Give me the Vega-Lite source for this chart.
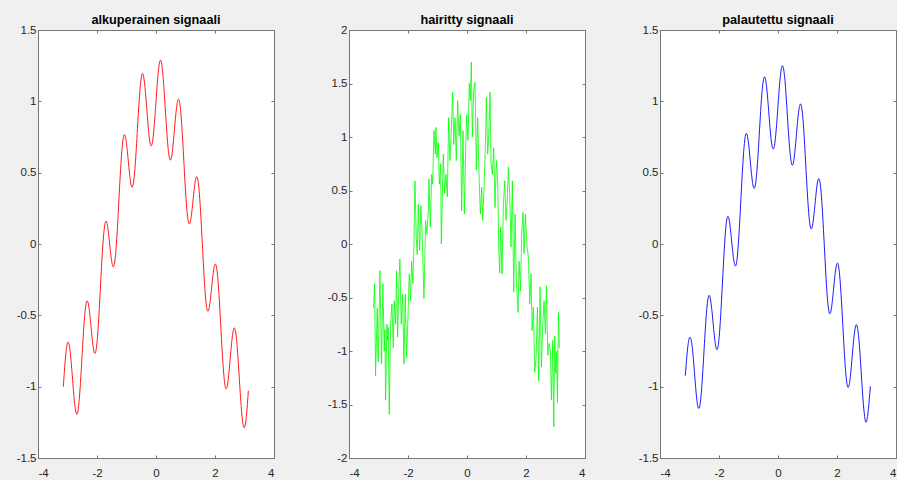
{
  "$schema": "https://vega.github.io/schema/vega-lite/v6.json",
  "background": "#f0f0f0",
  "padding": {"left": 15, "top": 13, "right": 0, "bottom": 0},
  "config": {
    "view": {"fill": "white", "stroke": "#767676", "strokeWidth": 1},
    "axis": {
      "grid": false,
      "domainColor": "#767676",
      "domainWidth": 1,
      "tickColor": "#767676",
      "tickWidth": 1,
      "tickSize": -3,
      "labelFont": "Liberation Sans",
      "labelFontSize": 11.5,
      "labelColor": "#262626",
      "labelExpr": "'' + datum.value",
      "minExtent": 0,
      "title": null
    },
    "axisBottom": {"labelPadding": 12.5},
    "axisLeft": {"labelPadding": 5},
    "axisTop": {"maxExtent": 0, "labels": false},
    "axisRight": {"maxExtent": 0, "labels": false},
    "title": {
      "font": "Liberation Sans",
      "fontSize": 12.7,
      "fontWeight": "bold",
      "color": "#000000",
      "baseline": "alphabetic",
      "frame": "group",
      "offset": -3,
      "anchor": "middle"
    }
  },
  "datasets": {
    "orig": [
      {"x": -3.142, "y": -1.0}, {"x": -3.063, "y": -0.785}, {"x": -2.985, "y": -0.688}, {"x": -2.906, "y": -0.76}, {"x": -2.827, "y": -0.951}, {"x": -2.749, "y": -1.136}, {"x": -2.67, "y": -1.191}, {"x": -2.592, "y": -1.065}, {"x": -2.513, "y": -0.809}, {"x": -2.435, "y": -0.548}, {"x": -2.356, "y": -0.407}, {"x": -2.278, "y": -0.437}, {"x": -2.199, "y": -0.588}, {"x": -2.121, "y": -0.734}, {"x": -2.042, "y": -0.754}, {"x": -1.963, "y": -0.595}, {"x": -1.885, "y": -0.309}, {"x": -1.806, "y": -0.021}, {"x": -1.728, "y": 0.144}, {"x": -1.649, "y": 0.134}, {"x": -1.571, "y": 0.0}, {"x": -1.492, "y": -0.134}, {"x": -1.414, "y": -0.144}, {"x": -1.335, "y": 0.021}, {"x": -1.257, "y": 0.309}, {"x": -1.178, "y": 0.595}, {"x": -1.1, "y": 0.754}, {"x": -1.021, "y": 0.734}, {"x": -0.942, "y": 0.588}, {"x": -0.864, "y": 0.437}, {"x": -0.785, "y": 0.407}, {"x": -0.707, "y": 0.548}, {"x": -0.628, "y": 0.809}, {"x": -0.55, "y": 1.065}, {"x": -0.471, "y": 1.191}, {"x": -0.393, "y": 1.136}, {"x": -0.314, "y": 0.951}, {"x": -0.236, "y": 0.76}, {"x": -0.157, "y": 0.688}, {"x": -0.079, "y": 0.785}, {"x": 0.0, "y": 1.0}, {"x": 0.079, "y": 1.209}, {"x": 0.157, "y": 1.288}, {"x": 0.236, "y": 1.184}, {"x": 0.314, "y": 0.951}, {"x": 0.393, "y": 0.712}, {"x": 0.471, "y": 0.591}, {"x": 0.55, "y": 0.641}, {"x": 0.628, "y": 0.809}, {"x": 0.707, "y": 0.972}, {"x": 0.785, "y": 1.007}, {"x": 0.864, "y": 0.861}, {"x": 0.942, "y": 0.588}, {"x": 1.021, "y": 0.31}, {"x": 1.1, "y": 0.154}, {"x": 1.178, "y": 0.171}, {"x": 1.257, "y": 0.309}, {"x": 1.335, "y": 0.445}, {"x": 1.414, "y": 0.456}, {"x": 1.492, "y": 0.29}, {"x": 1.571, "y": 0.0}, {"x": 1.649, "y": -0.29}, {"x": 1.728, "y": -0.456}, {"x": 1.806, "y": -0.445}, {"x": 1.885, "y": -0.309}, {"x": 1.963, "y": -0.171}, {"x": 2.042, "y": -0.154}, {"x": 2.121, "y": -0.31}, {"x": 2.199, "y": -0.588}, {"x": 2.278, "y": -0.861}, {"x": 2.356, "y": -1.007}, {"x": 2.435, "y": -0.972}, {"x": 2.513, "y": -0.809}, {"x": 2.592, "y": -0.641}, {"x": 2.67, "y": -0.591}, {"x": 2.749, "y": -0.712}, {"x": 2.827, "y": -0.951}, {"x": 2.906, "y": -1.184}, {"x": 2.985, "y": -1.288}, {"x": 3.063, "y": -1.209}, {"x": 3.13, "y": -1.028}
    ],
    "noisy": [
      {"x": -3.167, "y": -0.6}, {"x": -3.133, "y": -0.37}, {"x": -3.1, "y": -1.23}, {"x": -3.043, "y": -0.6}, {"x": -3.009, "y": -1.1}, {"x": -2.952, "y": -0.25}, {"x": -2.896, "y": -1.12}, {"x": -2.851, "y": -0.37}, {"x": -2.805, "y": -1.0}, {"x": -2.783, "y": -0.8}, {"x": -2.76, "y": -1.46}, {"x": -2.715, "y": -0.75}, {"x": -2.692, "y": -0.9}, {"x": -2.67, "y": -0.78}, {"x": -2.636, "y": -1.59}, {"x": -2.59, "y": -0.75}, {"x": -2.545, "y": -0.56}, {"x": -2.5, "y": -0.97}, {"x": -2.466, "y": -0.53}, {"x": -2.421, "y": -0.75}, {"x": -2.387, "y": -0.25}, {"x": -2.353, "y": -0.87}, {"x": -2.308, "y": -0.37}, {"x": -2.274, "y": -0.14}, {"x": -2.229, "y": -0.75}, {"x": -2.183, "y": -0.47}, {"x": -2.138, "y": -1.12}, {"x": -2.093, "y": -0.47}, {"x": -2.048, "y": -1.06}, {"x": -2.002, "y": -0.69}, {"x": -1.957, "y": -0.28}, {"x": -1.912, "y": -0.53}, {"x": -1.878, "y": -0.16}, {"x": -1.833, "y": -0.37}, {"x": -1.799, "y": 0.0}, {"x": -1.765, "y": 0.59}, {"x": -1.719, "y": 0.05}, {"x": -1.686, "y": -0.1}, {"x": -1.652, "y": 0.37}, {"x": -1.606, "y": -0.06}, {"x": -1.561, "y": 0.36}, {"x": -1.527, "y": 0.15}, {"x": -1.459, "y": -0.51}, {"x": -1.403, "y": 0.22}, {"x": -1.357, "y": 0.09}, {"x": -1.312, "y": 0.31}, {"x": -1.29, "y": 0.61}, {"x": -1.244, "y": 0.16}, {"x": -1.199, "y": 0.65}, {"x": -1.165, "y": 0.56}, {"x": -1.12, "y": 1.06}, {"x": -1.075, "y": 0.84}, {"x": -1.052, "y": 1.09}, {"x": -1.018, "y": 0.81}, {"x": -0.973, "y": 0.95}, {"x": -0.939, "y": 0.56}, {"x": -0.894, "y": 0.75}, {"x": -0.871, "y": 0.0}, {"x": -0.803, "y": 0.84}, {"x": -0.758, "y": 0.47}, {"x": -0.713, "y": 0.65}, {"x": -0.667, "y": 0.44}, {"x": -0.622, "y": 1.18}, {"x": -0.577, "y": 0.78}, {"x": -0.532, "y": 1.06}, {"x": -0.486, "y": 1.42}, {"x": -0.452, "y": 0.93}, {"x": -0.407, "y": 1.18}, {"x": -0.362, "y": 0.78}, {"x": -0.317, "y": 1.34}, {"x": -0.271, "y": 1.01}, {"x": -0.226, "y": 1.21}, {"x": -0.181, "y": 0.31}, {"x": -0.136, "y": 1.06}, {"x": -0.09, "y": 0.28}, {"x": -0.045, "y": 0.9}, {"x": -0.011, "y": 1.21}, {"x": 0.034, "y": 0.97}, {"x": 0.079, "y": 1.5}, {"x": 0.113, "y": 1.34}, {"x": 0.147, "y": 1.7}, {"x": 0.181, "y": 1.0}, {"x": 0.226, "y": 1.43}, {"x": 0.271, "y": 1.51}, {"x": 0.317, "y": 0.69}, {"x": 0.362, "y": 1.18}, {"x": 0.407, "y": 0.65}, {"x": 0.452, "y": 0.28}, {"x": 0.498, "y": 0.53}, {"x": 0.532, "y": 0.22}, {"x": 0.577, "y": 0.53}, {"x": 0.622, "y": 0.9}, {"x": 0.656, "y": 1.37}, {"x": 0.701, "y": 0.84}, {"x": 0.735, "y": 1.0}, {"x": 0.781, "y": 1.42}, {"x": 0.814, "y": 0.75}, {"x": 0.86, "y": 0.65}, {"x": 0.905, "y": 0.9}, {"x": 0.95, "y": 0.34}, {"x": 0.995, "y": 0.78}, {"x": 1.041, "y": 0.59}, {"x": 1.075, "y": -0.03}, {"x": 1.109, "y": -0.27}, {"x": 1.143, "y": 0.16}, {"x": 1.188, "y": -0.28}, {"x": 1.233, "y": 0.37}, {"x": 1.278, "y": 0.59}, {"x": 1.324, "y": 0.22}, {"x": 1.369, "y": 0.44}, {"x": 1.403, "y": 0.72}, {"x": 1.448, "y": 0.47}, {"x": 1.493, "y": -0.03}, {"x": 1.538, "y": 0.59}, {"x": 1.584, "y": -0.45}, {"x": 1.629, "y": 0.28}, {"x": 1.674, "y": -0.34}, {"x": 1.731, "y": -0.64}, {"x": 1.765, "y": -0.16}, {"x": 1.81, "y": -0.44}, {"x": 1.855, "y": 0.09}, {"x": 1.9, "y": 0.3}, {"x": 1.934, "y": -0.09}, {"x": 1.98, "y": 0.28}, {"x": 2.036, "y": -0.03}, {"x": 2.081, "y": -0.12}, {"x": 2.127, "y": -0.56}, {"x": 2.172, "y": -0.28}, {"x": 2.206, "y": -0.81}, {"x": 2.251, "y": -0.59}, {"x": 2.296, "y": -1.2}, {"x": 2.342, "y": -1.06}, {"x": 2.387, "y": -0.59}, {"x": 2.432, "y": -1.28}, {"x": 2.477, "y": -0.4}, {"x": 2.523, "y": -1.15}, {"x": 2.568, "y": -0.75}, {"x": 2.613, "y": -0.53}, {"x": 2.658, "y": -0.84}, {"x": 2.692, "y": -0.39}, {"x": 2.738, "y": -1.04}, {"x": 2.783, "y": -0.93}, {"x": 2.828, "y": -1.0}, {"x": 2.862, "y": -1.46}, {"x": 2.907, "y": -0.9}, {"x": 2.941, "y": -1.71}, {"x": 2.975, "y": -0.86}, {"x": 3.009, "y": -1.21}, {"x": 3.043, "y": -1.0}, {"x": 3.066, "y": -1.48}, {"x": 3.1, "y": -0.64}, {"x": 3.133, "y": -0.97}
    ],
    "restored": [
      {"x": -3.142, "y": -0.923}, {"x": -3.063, "y": -0.73}, {"x": -2.985, "y": -0.654}, {"x": -2.906, "y": -0.724}, {"x": -2.827, "y": -0.913}, {"x": -2.749, "y": -1.096}, {"x": -2.67, "y": -1.149}, {"x": -2.592, "y": -1.024}, {"x": -2.513, "y": -0.768}, {"x": -2.435, "y": -0.508}, {"x": -2.356, "y": -0.367}, {"x": -2.278, "y": -0.401}, {"x": -2.199, "y": -0.556}, {"x": -2.121, "y": -0.705}, {"x": -2.042, "y": -0.729}, {"x": -1.963, "y": -0.567}, {"x": -1.885, "y": -0.279}, {"x": -1.806, "y": 0.012}, {"x": -1.728, "y": 0.18}, {"x": -1.649, "y": 0.162}, {"x": -1.571, "y": 0.02}, {"x": -1.492, "y": -0.122}, {"x": -1.414, "y": -0.14}, {"x": -1.335, "y": 0.027}, {"x": -1.257, "y": 0.316}, {"x": -1.178, "y": 0.604}, {"x": -1.1, "y": 0.764}, {"x": -1.021, "y": 0.739}, {"x": -0.942, "y": 0.588}, {"x": -0.864, "y": 0.432}, {"x": -0.785, "y": 0.397}, {"x": -0.707, "y": 0.535}, {"x": -0.628, "y": 0.793}, {"x": -0.55, "y": 1.045}, {"x": -0.471, "y": 1.168}, {"x": -0.393, "y": 1.113}, {"x": -0.314, "y": 0.928}, {"x": -0.236, "y": 0.738}, {"x": -0.157, "y": 0.666}, {"x": -0.079, "y": 0.759}, {"x": 0.0, "y": 0.97}, {"x": 0.079, "y": 1.174}, {"x": 0.157, "y": 1.249}, {"x": 0.236, "y": 1.146}, {"x": 0.314, "y": 0.914}, {"x": 0.393, "y": 0.676}, {"x": 0.471, "y": 0.556}, {"x": 0.55, "y": 0.606}, {"x": 0.628, "y": 0.775}, {"x": 0.707, "y": 0.938}, {"x": 0.785, "y": 0.974}, {"x": 0.864, "y": 0.827}, {"x": 0.942, "y": 0.553}, {"x": 1.021, "y": 0.274}, {"x": 1.1, "y": 0.117}, {"x": 1.178, "y": 0.14}, {"x": 1.257, "y": 0.284}, {"x": 1.335, "y": 0.427}, {"x": 1.414, "y": 0.444}, {"x": 1.492, "y": 0.276}, {"x": 1.571, "y": -0.016}, {"x": 1.649, "y": -0.307}, {"x": 1.728, "y": -0.475}, {"x": 1.806, "y": -0.457}, {"x": 1.885, "y": -0.314}, {"x": 1.963, "y": -0.169}, {"x": 2.042, "y": -0.145}, {"x": 2.121, "y": -0.301}, {"x": 2.199, "y": -0.579}, {"x": 2.278, "y": -0.852}, {"x": 2.356, "y": -0.998}, {"x": 2.435, "y": -0.96}, {"x": 2.513, "y": -0.793}, {"x": 2.592, "y": -0.622}, {"x": 2.67, "y": -0.568}, {"x": 2.749, "y": -0.685}, {"x": 2.827, "y": -0.92}, {"x": 2.906, "y": -1.15}, {"x": 2.985, "y": -1.25}, {"x": 3.063, "y": -1.16}, {"x": 3.13, "y": -0.998}
    ]
  },
  "spacing": 75,
  "bounds": "flush",
  "hconcat": [
    {
      "width": 236,
      "height": 428,
      "title": {"text": "alkuperainen signaali"},
      "data": {"name": "orig"},
      "layer": [
        {
          "mark": {"type": "line", "color": "#ff0000", "strokeWidth": 0.9, "interpolate": "natural"},
          "encoding": {
            "x": {"field": "x", "type": "quantitative", "scale": {"domain": [-4, 4], "nice": false, "zero": false}, "axis": {"orient": "bottom", "values": [-4, -2, 0, 2, 4]}},
            "y": {"field": "y", "type": "quantitative", "scale": {"domain": [-1.5, 1.5], "nice": false, "zero": false}, "axis": {"orient": "left", "values": [-1.5, -1, -0.5, 0, 0.5, 1, 1.5]}}
          }
        },
        {
          "mark": {"type": "line", "opacity": 0},
          "encoding": {
            "x": {"field": "x", "type": "quantitative", "axis": {"orient": "top", "labels": false, "values": [-4, -2, 0, 2, 4]}},
            "y": {"field": "y", "type": "quantitative", "axis": {"orient": "right", "labels": false, "values": [-1.5, -1, -0.5, 0, 0.5, 1, 1.5]}}
          }
        }
      ],
      "resolve": {"axis": {"x": "independent", "y": "independent"}}
    },
    {
      "width": 236,
      "height": 428,
      "title": {"text": "hairitty signaali"},
      "data": {"name": "noisy"},
      "layer": [
        {
          "mark": {"type": "line", "color": "#00ff00", "strokeWidth": 0.8},
          "encoding": {
            "x": {"field": "x", "type": "quantitative", "scale": {"domain": [-4, 4], "nice": false, "zero": false}, "axis": {"orient": "bottom", "values": [-4, -2, 0, 2, 4]}},
            "y": {"field": "y", "type": "quantitative", "scale": {"domain": [-2, 2], "nice": false, "zero": false}, "axis": {"orient": "left", "values": [-2, -1.5, -1, -0.5, 0, 0.5, 1, 1.5, 2]}}
          }
        },
        {
          "mark": {"type": "line", "opacity": 0},
          "encoding": {
            "x": {"field": "x", "type": "quantitative", "axis": {"orient": "top", "labels": false, "values": [-4, -2, 0, 2, 4]}},
            "y": {"field": "y", "type": "quantitative", "axis": {"orient": "right", "labels": false, "values": [-2, -1.5, -1, -0.5, 0, 0.5, 1, 1.5, 2]}}
          }
        }
      ],
      "resolve": {"axis": {"x": "independent", "y": "independent"}}
    },
    {
      "width": 236,
      "height": 428,
      "title": {"text": "palautettu signaali"},
      "data": {"name": "restored"},
      "layer": [
        {
          "mark": {"type": "line", "color": "#0000ff", "strokeWidth": 0.9, "interpolate": "natural"},
          "encoding": {
            "x": {"field": "x", "type": "quantitative", "scale": {"domain": [-4, 4], "nice": false, "zero": false}, "axis": {"orient": "bottom", "values": [-4, -2, 0, 2, 4]}},
            "y": {"field": "y", "type": "quantitative", "scale": {"domain": [-1.5, 1.5], "nice": false, "zero": false}, "axis": {"orient": "left", "values": [-1.5, -1, -0.5, 0, 0.5, 1, 1.5]}}
          }
        },
        {
          "mark": {"type": "line", "opacity": 0},
          "encoding": {
            "x": {"field": "x", "type": "quantitative", "axis": {"orient": "top", "labels": false, "values": [-4, -2, 0, 2, 4]}},
            "y": {"field": "y", "type": "quantitative", "axis": {"orient": "right", "labels": false, "values": [-1.5, -1, -0.5, 0, 0.5, 1, 1.5]}}
          }
        }
      ],
      "resolve": {"axis": {"x": "independent", "y": "independent"}}
    }
  ]
}
